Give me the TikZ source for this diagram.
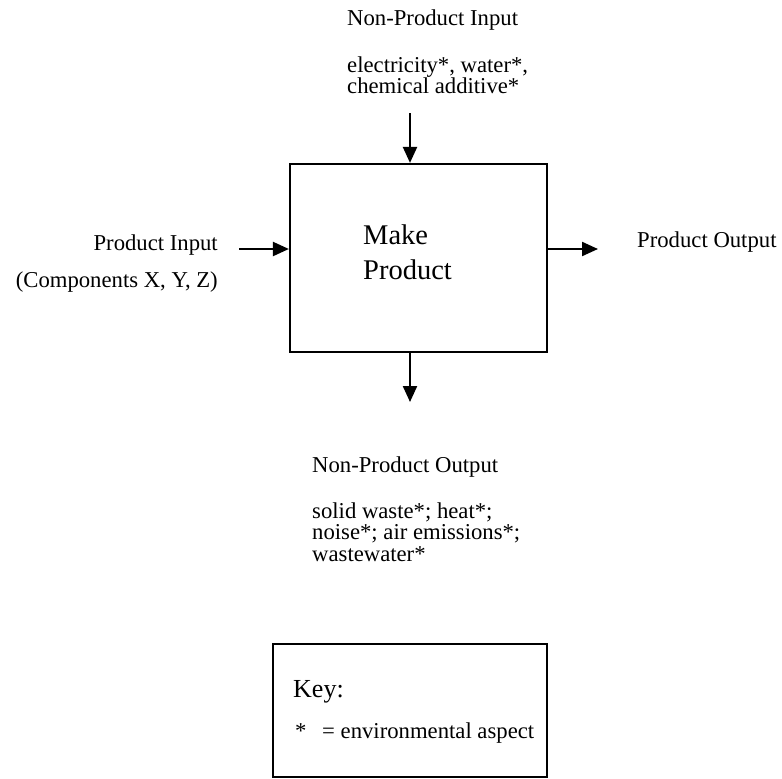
\documentclass[tikz,border=0pt]{standalone}
\usepackage{fontspec}
\setmainfont{Liberation Serif}
\usetikzlibrary{arrows.meta}
\tikzset{
  txt/.style={inner sep=0pt, align=left, font=\fontsize{22.7}{21}\selectfont},
  bigtxt/.style={inner sep=0pt, align=left, font=\fontsize{28.5}{35}\selectfont},
  keytxt/.style={inner sep=0pt, align=left, font=\fontsize{26}{30}\selectfont},
  frame/.style={draw, line width=2.2pt, inner sep=0pt},
  arr/.style={line width=2.2pt, -{Triangle[length=16pt,width=14pt]}}
}
\begin{document}
\begin{tikzpicture}[x=1pt,y=-1pt]
\useasboundingbox (0,0) rectangle (782,779);
% main box
\node[frame, minimum width=257pt, minimum height=188pt] (box) at (418.5,258) {};
% multi-line nodes: base anchor is the baseline of the last line
\node[bigtxt, anchor=base west] (make) at (363,279) {Make\\Product};
% non-product input
\node[txt, anchor=base west] (npit) at (347,25) {Non-Product Input};
\node[txt, anchor=base west] (npib) at (347,93) {electricity*, water*,\\chemical additive*};
% product input
\node[txt, anchor=base east] (pit) at (218,250) {Product Input};
\node[txt, anchor=base east] (pib) at (218,287) {(Components X, Y, Z)};
% product output
\node[txt, anchor=base west] (pot) at (637,247) {Product Output};
% non-product output
\node[txt, anchor=base west] (npot) at (312,472) {Non-Product Output};
\node[txt, anchor=base west, font=\fontsize{22.7}{21.5}\selectfont] (npob) at (312,561) {solid waste*; heat*;\\noise*; air emissions*;\\wastewater*};
% arrows
\coordinate (tin) at (410,113);
\coordinate (lin) at (239,249);
\coordinate (rout) at (598,249);
\coordinate (bout) at (410,402);
\draw[arr] (tin) -- (tin |- box.north);
\draw[arr] (lin) -- (lin -| box.west);
\draw[arr] (box.east |- rout) -- (rout);
\draw[arr] (box.south -| bout) -- (bout);
% key
\node[frame, minimum width=274pt, minimum height=133pt] (key) at (410,710.5) {};
\node[keytxt, anchor=base west] (keyt) at (293,697) {Key:};
\node[txt, anchor=base west] (star) at (295,738) {*};
\node[txt, anchor=base west] (keyb) at (322,738) {= environmental aspect};
\end{tikzpicture}
\end{document}
